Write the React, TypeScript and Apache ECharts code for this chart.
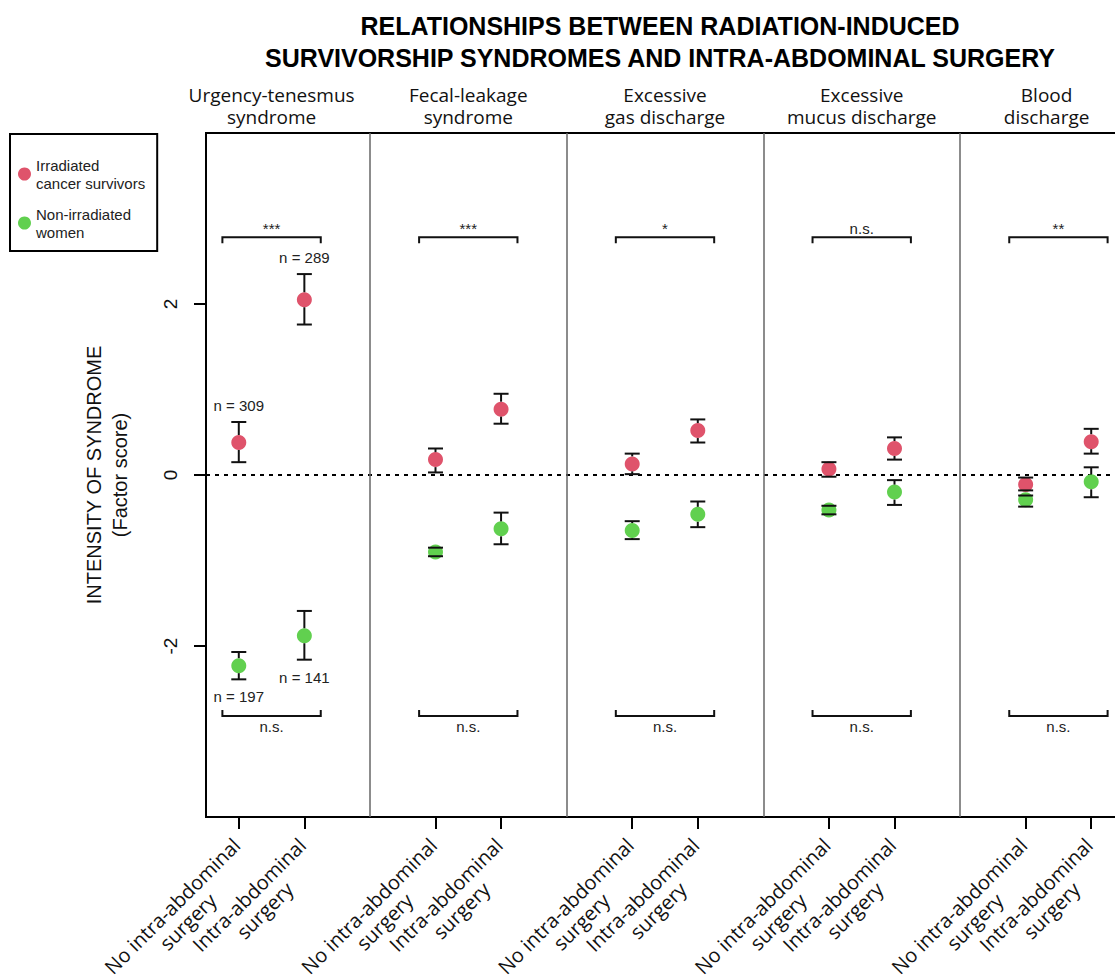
import React, { useEffect, useRef } from "react";
import * as echarts from "echarts";

// ---------- data ----------
const panelNames = [
  "Urgency-tenesmus\nsyndrome",
  "Fecal-leakage\nsyndrome",
  "Excessive\ngas discharge",
  "Excessive\nmucus discharge",
  "Blood\ndischarge",
];
const headerPositions = [1.5, 4.5, 7.5, 10.5, 13.32];
const surgeryGroups = ["No intra-abdominal\nsurgery", "Intra-abdominal\nsurgery"];
const seriesNames = ["Irradiated\ncancer survivors", "Non-irradiated\nwomen"];

// order: panel1 [no surgery, surgery], panel2 [...], ...
const irradiatedMean = [0.38, 2.05, 0.18, 0.77, 0.13, 0.52, 0.07, 0.31, -0.11, 0.39];
const irradiatedLow = [0.15, 1.76, 0.03, 0.6, 0.01, 0.38, -0.02, 0.18, -0.18, 0.25];
const irradiatedHigh = [0.62, 2.35, 0.31, 0.95, 0.25, 0.65, 0.15, 0.44, -0.03, 0.54];

const nonIrradiatedMean = [-2.23, -1.88, -0.9, -0.63, -0.65, -0.46, -0.41, -0.2, -0.29, -0.08];
const nonIrradiatedLow = [-2.39, -2.16, -0.95, -0.81, -0.75, -0.61, -0.46, -0.35, -0.37, -0.26];
const nonIrradiatedHigh = [-2.07, -1.59, -0.85, -0.44, -0.54, -0.31, -0.36, -0.06, -0.24, 0.09];

const topSignificance = ["***", "***", "*", "n.s.", "**"];
const bottomSignificance = ["n.s.", "n.s.", "n.s.", "n.s.", "n.s."];
const topBracketY = 2.78;
const bottomBracketY = -2.82;

const sampleSizeLabels = [
  { index: 0, y: 0.81, text: "n = 309" },
  { index: 1, y: 2.54, text: "n = 289" },
  { index: 0, y: -2.59, text: "n = 197" },
  { index: 1, y: -2.37, text: "n = 141" },
];

const yTicks = [-2, 0, 2];

// ---------- helpers ----------
const RED = "#DF536B";
const GREEN = "#61D04F";
const xOf = (i: number) => Math.floor(i / 2) * 3 + 1 + (i % 2);
const groupTicks = irradiatedMean.map((_, i) => xOf(i));
const separators = panelNames.slice(1).map((_, p) => (p + 1) * 3);

const errorData = [
  ...irradiatedMean.map((m, i) => [xOf(i), m, irradiatedLow[i], irradiatedHigh[i]]),
  ...nonIrradiatedMean.map((m, i) => [xOf(i), m, nonIrradiatedLow[i], nonIrradiatedHigh[i]]),
];

const brackets = [
  ...topSignificance.map((s, p) => ({ x1: p * 3 + 0.75, x2: p * 3 + 2.25, y: topBracketY, dir: 1, label: s })),
  ...bottomSignificance.map((s, p) => ({ x1: p * 3 + 0.75, x2: p * 3 + 2.25, y: bottomBracketY, dir: -1, label: s })),
];

const SANS = "Liberation Sans";
const HUMAN = "Open Sans";

export default function App() {
  const ref = useRef<HTMLDivElement>(null);

  useEffect(() => {
    if (!ref.current) return;
    const chart = echarts.init(ref.current, undefined, { renderer: "svg" });

    const option: any = {
      animation: false,
      backgroundColor: "#fff",
      graphic: [
        {
          type: "text",
          x: 660,
          y: 10,
          style: {
            text: "RELATIONSHIPS BETWEEN RADIATION-INDUCED\nSURVIVORSHIP SYNDROMES AND INTRA-ABDOMINAL SURGERY",
            align: "center",
            verticalAlign: "top",
            fontSize: 25,
            fontWeight: "bold",
            fontFamily: SANS,
            lineHeight: 32,
            fill: "#000",
          },
        },
      ],
      legend: {
        orient: "vertical",
        left: 10,
        top: 134,
        data: seriesNames,
        icon: "circle",
        itemWidth: 13,
        itemHeight: 13,
        itemGap: 13,
        borderColor: "#000",
        borderWidth: 2,
        padding: [22, 12, 10, 8],
        selectedMode: false,
        textStyle: { fontSize: 15, lineHeight: 18, fontFamily: SANS, color: "#222" },
      },
      grid: {
        left: 206,
        top: 133,
        width: 918,
        height: 684,
        show: true,
        borderColor: "#000",
        borderWidth: 2,
        backgroundColor: "transparent",
        outerBoundsMode: "none",
        containLabel: false,
      },
      xAxis: [
        {
          type: "value",
          min: 0.5,
          max: 14.5,
          position: "bottom",
          axisLine: { show: false, onZero: false },
          splitLine: { show: false },
          axisTick: {
            show: true,
            customValues: groupTicks,
            length: 12,
            lineStyle: { color: "#000", width: 2 },
          },
          axisLabel: {
            customValues: groupTicks,
            rotate: 45,
            align: "right",
            verticalAlign: "top",
            margin: 7,
            padding: [0, 14, 0, 0],
            formatter: (v: number) => {
              const g = Math.round(v - 1) % 3;
              return surgeryGroups[g]
                .split("\n")
                .map((l) => `{c|${l}}`)
                .join("\n");
            },
            rich: {
              c: { align: "center", fontSize: 20, lineHeight: 22, fontFamily: HUMAN, color: "#111" },
            },
          },
        },
        {
          type: "value",
          min: 0.5,
          max: 14.5,
          position: "top",
          axisLine: { show: false, onZero: false },
          splitLine: { show: false },
          axisTick: { show: false },
          axisLabel: {
            customValues: headerPositions,
            margin: 5,
            formatter: (v: number) => {
              let best = 0;
              headerPositions.forEach((h, i) => {
                if (Math.abs(h - v) < Math.abs(headerPositions[best] - v)) best = i;
              });
              return panelNames[best];
            },
            fontSize: 19,
            lineHeight: 22,
            fontFamily: HUMAN,
            color: "#111",
            align: "center",
          },
        },
      ],
      yAxis: {
        type: "value",
        min: -4,
        max: 4,
        interval: 2,
        axisLine: { show: false, onZero: false },
        splitLine: { show: false },
        axisTick: {
          show: true,
          customValues: yTicks,
          length: 12,
          lineStyle: { color: "#000", width: 2 },
        },
        axisLabel: {
          customValues: yTicks,
          rotate: 90,
          margin: 26,
          fontSize: 19,
          fontFamily: SANS,
          color: "#111",
        },
        name: "INTENSITY OF SYNDROME\n(Factor score)",
        nameLocation: "middle",
        nameRotate: 90,
        nameGap: 73,
        nameTextStyle: { fontSize: 20, lineHeight: 26, fontFamily: SANS, color: "#111" },
      },
      series: [
        {
          name: seriesNames[0],
          type: "scatter",
          xAxisIndex: 0,
          symbol: "circle",
          symbolSize: 15,
          itemStyle: { color: RED, opacity: 1 },
          z: 3,
          data: irradiatedMean.map((v, i) => [xOf(i), v]),
          markLine: {
            silent: true,
            symbol: "none",
            label: { show: false },
            z: 1,
            data: [
              { yAxis: 0, lineStyle: { color: "#000", width: 2, type: [4, 5] } },
              ...separators.map((x) => ({ xAxis: x, lineStyle: { color: "#666", width: 1.5, type: "solid" } })),
            ],
          },
        },
        {
          name: seriesNames[1],
          type: "scatter",
          xAxisIndex: 0,
          symbol: "circle",
          symbolSize: 15,
          itemStyle: { color: GREEN, opacity: 1 },
          z: 3,
          data: nonIrradiatedMean.map((v, i) => [xOf(i), v]),
        },
        {
          name: "errorbars",
          type: "custom",
          xAxisIndex: 0,
          z: 4,
          encode: { x: 0, y: [1, 2, 3] },
          data: errorData,
          renderItem: (params: any, api: any) => {
            const x = api.value(0);
            const m = api.value(1);
            const lo = api.value(2);
            const hi = api.value(3);
            const pm = api.coord([x, m]);
            const pl = api.coord([x, lo]);
            const ph = api.coord([x, hi]);
            const w = 7.5;
            const r = 7.5;
            const style = { stroke: "#111", lineWidth: 2, fill: null };
            const children: any[] = [
              { type: "line", shape: { x1: pl[0] - w, y1: pl[1], x2: pl[0] + w, y2: pl[1] }, style },
              { type: "line", shape: { x1: ph[0] - w, y1: ph[1], x2: ph[0] + w, y2: ph[1] }, style },
            ];
            if (pl[1] > pm[1] + r) {
              children.push({ type: "line", shape: { x1: pm[0], y1: pm[1] + r, x2: pl[0], y2: pl[1] }, style });
            }
            if (ph[1] < pm[1] - r) {
              children.push({ type: "line", shape: { x1: pm[0], y1: pm[1] - r, x2: ph[0], y2: ph[1] }, style });
            }
            return { type: "group", children };
          },
        },
        {
          name: "brackets",
          type: "custom",
          xAxisIndex: 0,
          z: 4,
          encode: { x: [0, 1], y: 2 },
          data: brackets.map((b) => [b.x1, b.x2, b.y]),
          renderItem: (params: any, api: any) => {
            const b = brackets[params.dataIndex];
            const p1 = api.coord([api.value(0), api.value(2)]);
            const p2 = api.coord([api.value(1), api.value(2)]);
            const t = 6 * b.dir;
            return {
              type: "group",
              children: [
                {
                  type: "polyline",
                  shape: { points: [[p1[0], p1[1] + t], p1, p2, [p2[0], p2[1] + t]] },
                  style: { stroke: "#111", lineWidth: 2, fill: null },
                },
                {
                  type: "text",
                  x: (p1[0] + p2[0]) / 2,
                  y: b.dir > 0 ? p1[1] - 1 : p1[1] + 3,
                  style: {
                    text: b.label,
                    align: "center",
                    verticalAlign: b.dir > 0 ? "bottom" : "top",
                    fontSize: 15,
                    fontFamily: SANS,
                    fill: "#222",
                  },
                },
              ],
            };
          },
        },
        {
          name: "samplesizes",
          type: "custom",
          xAxisIndex: 0,
          z: 4,
          encode: { x: 0, y: 1 },
          data: sampleSizeLabels.map((s) => [xOf(s.index), s.y]),
          renderItem: (params: any, api: any) => {
            const s = sampleSizeLabels[params.dataIndex];
            const p = api.coord([api.value(0), api.value(1)]);
            return {
              type: "text",
              x: p[0],
              y: p[1],
              style: {
                text: s.text,
                align: "center",
                verticalAlign: "middle",
                fontSize: 15,
                fontFamily: SANS,
                fill: "#222",
              },
            };
          },
        },
      ],
    };

    chart.setOption(option);
    return () => chart.dispose();
  }, []);

  return (
    <div
      ref={ref}
      style={{ position: "absolute", left: 0, top: 0, width: 1115, height: 977, background: "#fff" }}
    />
  );
}
